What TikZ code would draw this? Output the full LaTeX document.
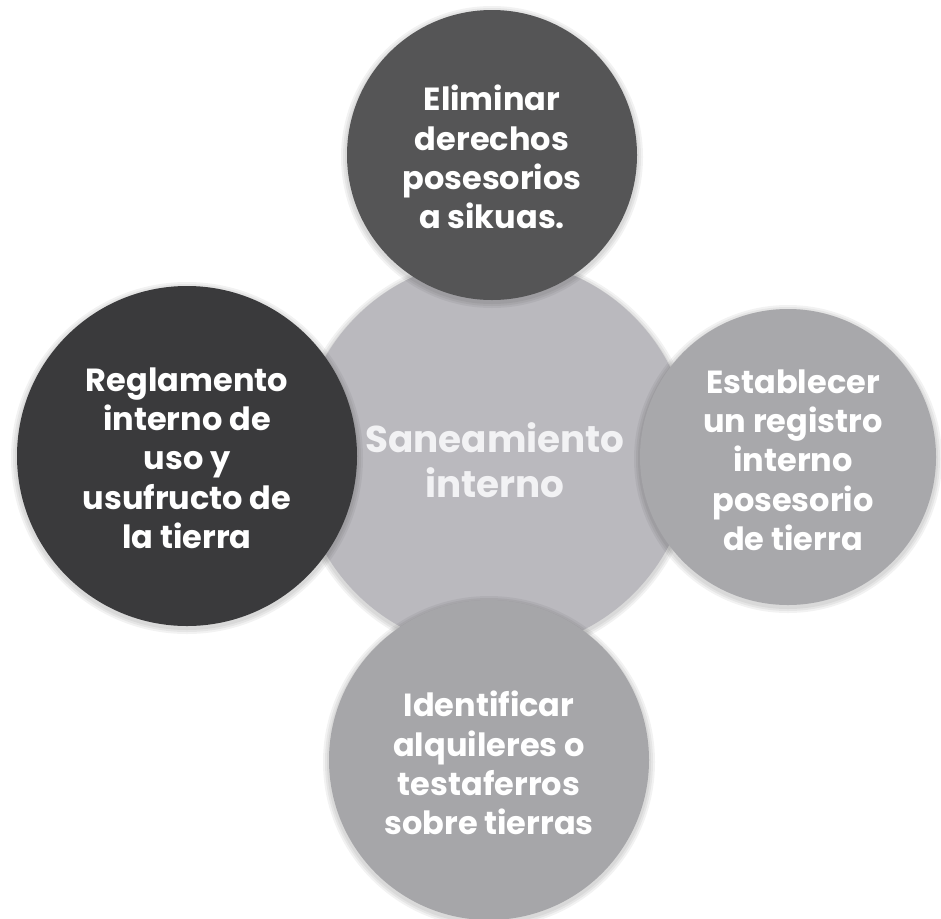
\documentclass[tikz,border=0pt]{standalone}
\usepackage{fontspec}
\setmainfont{Poppins}
\begin{document}
\begin{tikzpicture}[x=0.75pt,y=-0.75pt,
  lbl/.style={text=white,align=center,font=\bfseries\fontsize{24}{29.5}\selectfont},
  shadowc/.style={fill=black,fill opacity=0.05,draw=none}]
\useasboundingbox (0,0) rectangle (941,918);
\fill[white] (0,0) rectangle (941,918);
% centre
\foreach \d in {6,4,2} \fill[shadowc] (495,457) circle (196+\d);
\fill[color={rgb,255:red,186;green,185;blue,190}] (495,455) circle (196);
\node[lbl,font=\bfseries\fontsize{28}{34}\selectfont,text={rgb,255:red,242;green,242;blue,244}] (c) at (495,460) {Saneamiento\\interno};
% top
\foreach \d in {6,4,2} \fill[shadowc] (492,157) circle (145+\d);
\fill[color={rgb,255:red,85;green,85;blue,86}] (492,155) circle (145);
\node[lbl] (t) at (492,157) {Eliminar\\derechos\\posesorios\\a sikuas.};
% left
\foreach \d in {6,4,2} \fill[shadowc] (187,458) circle (170+\d);
\fill[color={rgb,255:red,58;green,58;blue,60}] (187,456) circle (170);
\node[lbl] (l) at (187,458) {Reglamento\\interno de\\uso y\\usufructo de\\la tierra};
% right
\foreach \d in {6,4,2} \fill[shadowc] (788,459) circle (148+\d);
\fill[color={rgb,255:red,168;green,168;blue,171}] (788,457) circle (148);
\node[lbl] (r) at (793,460) {Establecer\\un registro\\interno\\posesorio\\de tierra};
% bottom
\foreach \d in {6,4,2} \fill[shadowc] (489,762) circle (160+\d);
\fill[color={rgb,255:red,166;green,166;blue,169}] (489,760) circle (160);
\node[lbl] (b) at (489,763) {Identificar\\alquileres o\\testaferros\\sobre tierras};
\end{tikzpicture}
\end{document}
